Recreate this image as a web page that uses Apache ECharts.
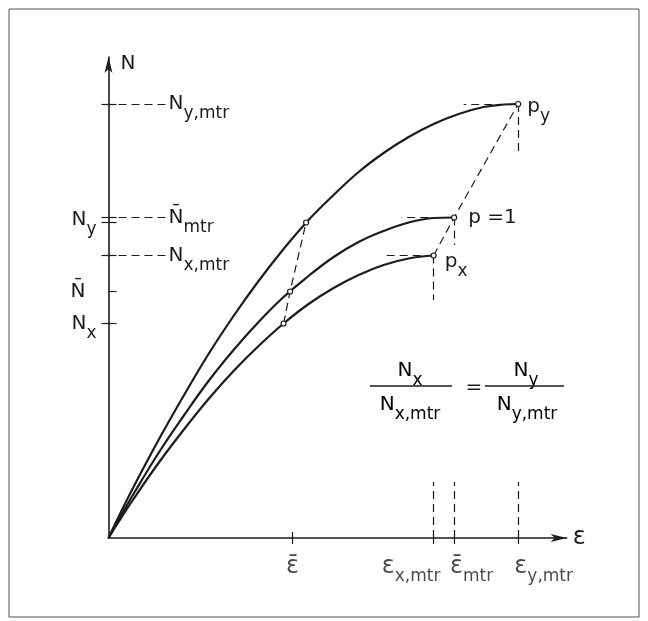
<!DOCTYPE html>
<html>
<head>
<meta charset="utf-8">
<script src="https://cdn.jsdelivr.net/npm/echarts@6.0.0/dist/echarts.min.js"></script>
<style>
  html, body { margin: 0; padding: 0; background: #fff; }
  #chart { width: 648px; height: 621px; }
</style>
</head>
<body>
<div id="chart"></div>
<script>
// curves N(ε) (x = ε, y = N, arbitrary units)
const upperCurve = [[0,0],[10,21],[25,51],[50,98],[75,142],[100,184],[125,222],[150,257],[175,289],[200,318],[225,343],[250,366],[275,385],[300,401],[325,414],[350,424],[375,431],[395,433.5],[409.5,434]]
const middleCurve = [[0,0],[10,18],[25,44],[50,85],[75,122],[100,157],[125,188],[150,216],[175,241],[200,262],[225,281],[250,296],[275,307],[300,315.5],[325,320],[345.5,320.5]]
const lowerCurve = [[0,0],[10,16],[25,39],[50,75],[75,108],[100,139],[125,167],[150,192],[175,214.5],[200,234],[225,250],[250,263],[275,273],[300,279.5],[325,282.5]]

// dashed connectors through the marked points
const leftPoints = [[175,214.5],[181.5,246.5],[197.5,315.5]]
const rightPoints = [[325,282.5],[345.5,320.5],[409.5,434]]
const pointLabels = [['p', 'x'], ['p =1', ''], ['p', 'y']]

// axis ticks
const yTickValues = [214.5, 246.5, 282.5, 315.5, 320.5, 434]
const yTickOuter = [214.5, 282.5, 315.5, 320.5, 434]
const yLeftLabels = { 214.5: ['N', 'x', false], 246.5: ['N', '', true], 318: ['N', 'y', false] }
const xTickValues = [184, 325, 345.5, 409.5]
const xTickLabels = [
  { v: 184, main: 'ε', sub: '', bar: true, dx: 0 },
  { v: 325, main: 'ε', sub: 'x,mtr', bar: false, dx: -22.5 },
  { v: 345.5, main: 'ε', sub: 'mtr', bar: true, dx: 17.5 },
  { v: 409.5, main: 'ε', sub: 'y,mtr', bar: false, dx: 25.5 }
]
// labels on the right of the N axis
const yRightLabels = [
  { v: 434, main: 'N', sub: 'y,mtr', bar: false },
  { v: 320.5, main: 'N', sub: 'mtr', bar: true },
  { v: 282.5, main: 'N', sub: 'x,mtr', bar: false }
]

const FONT = 'DejaVu Sans'
const INK = '#1c1c1c'
const rich = {
  m: { fontSize: 20, fontFamily: FONT, color: INK, verticalAlign: 'middle', lineHeight: 37 },
  e: { fontSize: 24, fontFamily: FONT, color: INK, verticalAlign: 'middle', lineHeight: 37 },
  s: { fontSize: 17, fontFamily: FONT, color: INK, verticalAlign: 'bottom', lineHeight: 17, padding: [20, 0, 0, 0] },
  gap: { width: 11, fontSize: 20, lineHeight: 37 }
}
const rt = (main, sub, bar) => {
  const key = main === 'ε' ? 'e' : 'm'
  return `{${key}|${main}${bar ? '\u0304' : ''}}` + (sub ? `{s|${sub}}` : '')
}

const dash = { color: INK, width: 1.2, type: [8, 5] }

function seg(a, b) {
  return [{ coord: a }, { coord: b }]
}

const chart = echarts.init(document.getElementById('chart'), null, { renderer: 'canvas' })

const guideLines = [
  seg([409.5, 434], [355, 434]),
  seg([409.5, 434], [409.5, 387]),
  seg([345.5, 320.5], [293, 320.5]),
  seg([345.5, 320.5], [345.5, 293]),
  seg([325, 282.5], [273.5, 282.5]),
  seg([325, 282.5], [325, 238]),
  seg([325, 0], [325, 56]),
  seg([345.5, 0], [345.5, 56]),
  seg([409.5, 0], [409.5, 56])
]
const labelLines = yRightLabels.map(d => [
  { coord: [10, d.v] },
  { coord: [57, d.v], label: { show: true, position: 'end', distance: 3, formatter: rt(d.main, d.sub, d.bar), rich } }
])

const option = {
  animation: false,
  backgroundColor: '#fff',
  grid: { left: 108.5, right: 81.3, top: 57, bottom: 83 },
  xAxis: [{
    type: 'value', min: 0, max: 458,
    splitLine: { show: false },
    axisLine: { lineStyle: { color: INK, width: 1.6 }, symbol: ['none', 'arrow'], symbolSize: [6, 16] },
    axisTick: { show: true, customValues: xTickValues, length: 6, lineStyle: { color: INK, width: 1.2 } },
    axisLabel: { show: false },
    name: 'ε', nameGap: 6,
    nameTextStyle: { fontSize: 24, fontFamily: FONT, color: INK }
  }, {
    type: 'value', min: 0, max: 458, position: 'bottom',
    splitLine: { show: false }, axisLine: { show: false },
    axisTick: { show: true, inside: true, customValues: [184], length: 6, lineStyle: { color: INK, width: 1.2 } },
    axisLabel: { show: false }
  }],
  yAxis: [{
    type: 'value', min: 0, max: 481,
    splitLine: { show: false },
    axisLine: { lineStyle: { color: INK, width: 1.6 }, symbol: ['none', 'arrow'], symbolSize: [6, 16] },
    axisTick: { show: true, customValues: yTickOuter, length: 7, lineStyle: { color: INK, width: 1.2 } },
    axisLabel: {
      show: true, margin: 12,
      customValues: [214.5, 246.5, 318],
      formatter: v => {
        const d = yLeftLabels[v]
        if (!d) return ''
        // N̄ sits left-aligned with the other labels
        return rt(d[0], d[1], d[2]) + (d[1] ? '' : '{gap| }')
      },
      rich
    },
    name: 'N', nameGap: -17,
    nameTextStyle: { fontSize: 20, fontFamily: FONT, color: INK, align: 'left', verticalAlign: 'bottom', padding: [0, 0, 0, 12] }
  }, {
    type: 'value', min: 0, max: 481, position: 'left',
    splitLine: { show: false }, axisLine: { show: false },
    axisTick: { show: true, inside: true, customValues: yTickValues, length: 8, lineStyle: { color: INK, width: 1.2 } },
    axisLabel: { show: false }
  }],
  series: [
    { name: 'upper', type: 'line', data: upperCurve, smooth: 0.4, showSymbol: false, lineStyle: { color: INK, width: 2.2 } },
    { name: 'middle', type: 'line', data: middleCurve, smooth: 0.4, showSymbol: false, lineStyle: { color: INK, width: 2.2 } },
    { name: 'lower', type: 'line', data: lowerCurve, smooth: 0.4, showSymbol: false, lineStyle: { color: INK, width: 2.2 } },
    {
      name: 'left connector', type: 'line', data: leftPoints, symbol: 'circle', symbolSize: 5, showSymbol: true, z: 5,
      itemStyle: { color: '#fff', borderColor: INK, borderWidth: 1.2 }, lineStyle: dash
    },
    {
      name: 'right connector', type: 'line', symbol: 'circle', symbolSize: 5, showSymbol: true, z: 5,
      itemStyle: { color: '#fff', borderColor: INK, borderWidth: 1.2 }, lineStyle: dash,
      label: { show: true, color: INK, rich, formatter: p => rt(pointLabels[p.dataIndex][0], pointLabels[p.dataIndex][1]) },
      emphasis: { disabled: true },
      data: rightPoints.map((p, i) => ({
        value: p,
        label: [
          { position: 'right', distance: 8, offset: [0, 6] },
          { position: 'right', distance: 11, offset: [0, 0] },
          { position: 'right', distance: 6, offset: [0, 3] }
        ][i]
      }))
    },
    {
      name: 'guides', type: 'line', data: [],
      markLine: { silent: true, symbol: 'none', animation: false, lineStyle: dash, label: { show: false },
        data: guideLines.concat(labelLines) }
    },
    {
      name: 'x labels', type: 'scatter', symbolSize: 0, silent: true,
      label: { show: true, position: 'bottom', distance: 10, color: INK, rich },
      data: xTickLabels.map(d => ({
        value: [d.v, 0],
        label: { offset: [d.dx, 0], formatter: rt(d.main, d.sub, d.bar) }
      }))
    }
  ],
  graphic: [
    { type: 'rect', shape: { x: 9, y: 9, width: 630, height: 608 }, style: { fill: 'none', stroke: '#555', lineWidth: 1 }, silent: true },
    { type: 'text', x: 410, y: 371, style: { text: rt('N', 'x'), rich, align: 'center', verticalAlign: 'middle' } },
    { type: 'line', shape: { x1: 370, y1: 386, x2: 452, y2: 386 }, style: { stroke: INK, lineWidth: 1.5 } },
    { type: 'text', x: 410, y: 405, style: { text: rt('N', 'x,mtr'), rich, align: 'center', verticalAlign: 'middle' } },
    { type: 'text', x: 474, y: 388, style: { text: '=', font: `20px ${FONT}`, fill: INK, align: 'center', verticalAlign: 'middle' } },
    { type: 'text', x: 526, y: 371, style: { text: rt('N', 'y'), rich, align: 'center', verticalAlign: 'middle' } },
    { type: 'line', shape: { x1: 485, y1: 386, x2: 564, y2: 386 }, style: { stroke: INK, lineWidth: 1.5 } },
    { type: 'text', x: 527, y: 405, style: { text: rt('N', 'y,mtr'), rich, align: 'center', verticalAlign: 'middle' } }
  ]
}

chart.setOption(option)
</script>
</body>
</html>
